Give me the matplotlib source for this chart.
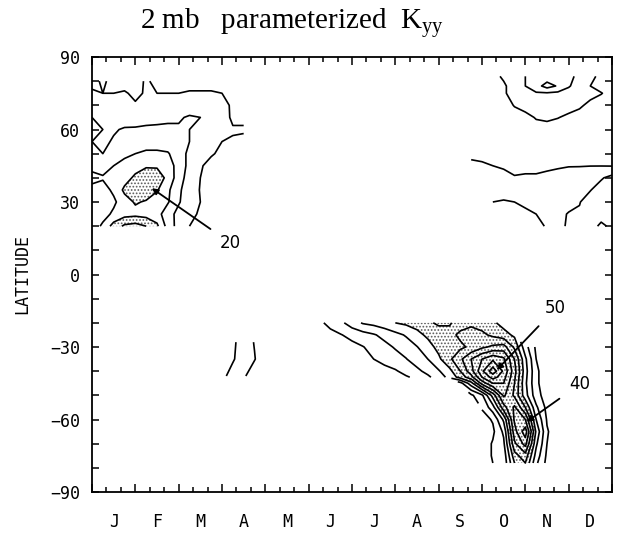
import numpy as np
import matplotlib.pyplot as plt

plt.rcParams['hatch.linewidth'] = 0.8
plt.rcParams['hatch.color'] = '0.35'

nan = np.nan
months = ['J', 'F', 'M', 'A', 'M', 'J', 'J', 'A', 'S', 'O', 'N', 'D']
levels = [5, 10, 15, 20, 25, 30, 35, 40, 45, 50]
shade = [20, 100]

# NH winter block (Jan - mid Apr), time in months
nhw_t = [0, 0.25, 0.5, 0.75, 1.0, 1.25, 1.5, 1.75, 2.0, 2.25, 2.5, 2.75, 3.0, 3.25, 3.5]
nhw_lat = [20, 25, 30, 35, 40, 45, 50, 55, 60, 65, 70, 75, 80]
nhw_k = [
    [12, 16, 22, 26, 27, 25, 21, 13, 8, 5, 3, 2, 2, 2, 2],
    [13, 13, 16, 18, 18.5, 18, 17, 12, 8.5, 6, 4.5, 2.5, 2, 2, 2],
    [12, 11, 14, 18, 20.5, 19.5, 17, 15.5, 10.5, 7, 5, 3, 2, 2, 2],
    [14, 13, 16, 21, 23, 23, 20.5, 16, 11, 7, 4.8, 3, 2, 2, 2],
    [16, 15.5, 16, 18, 21, 22.5, 22, 19, 12, 8, 5, 3, 2.5, 2.5, 2.5],
    [14, 13, 15, 16.5, 18, 19.5, 19.5, 17.5, 13, 8.5, 5.5, 3.5, 3, 3, 3],
    [12, 10, 12, 14, 15, 16, 16, 15.5, 12, 9, 6, 5.5, 4, 3, 3],
    [10, 9, 10.5, 12, 12, 12.5, 12.5, 12, 11, 10, 7, 6, 5, 4.5, 4],
    [10.5, 10, 9.5, 10.5, 10.5, 11, 11, 11, 10.5, 10, 8.5, 7, 6, 5.5, 5.5],
    [10, 9.5, 8.5, 7.5, 8, 8, 8.5, 9, 9.5, 10.5, 10, 8.5, 7.5, 4, 4],
    [8, 7, 6.5, 6, 5.5, 6, 6, 6.5, 7, 7.5, 8.5, 9, 7, 4, 4.5],
    [5.5, 5, 5, 5.5, 4, 5.5, 5, 5, 5, 5.5, 5.5, 5.5, 5, 5, 4],
    [4, 5.5, 4, 3, 3.5, 5.5, 4, 3, 3, 3, 3, 3, 3, 3, 3],
]

# NH autumn block (Sep - Dec)
nha_t = [8.75, 9.0, 9.25, 9.5, 9.75, 10.0, 10.25, 10.5, 10.75, 11.0, 11.25, 11.5, 11.75, 12.0]
nha_lat = [20, 25, 30, 35, 40, 45, 50, 55, 60, 65, 70, 75, 78, 82]
nha_k = [
    [nan, nan, 13, 13.5, 13, 12.5, 11.5, 9.5, 9, 10.5, 12, 14, 15.5, 14.5],
    [nan, nan, 12, 12.5, 12, 11, 10, 8.5, 9.2, 10.2, 10.5, 12, 14, 14],
    [nan, nan, 10, 10.5, 10, 9, 8, 7.5, 8, 9, 9.8, 12, 13, 14],
    [nan, nan, 8, 7.5, 7, 7, 6.5, 6.5, 7, 8, 9.5, 9.8, 12, 13],
    [7, 6.5, 6.5, 6, 5.2, 5.5, 5.5, 6, 6.5, 7, 7.5, 8.5, 9.5, 11.5],
    [6, 5.5, 5, 4.6, 4.2, 4.0, 4.0, 4.2, 4.5, 4.8, 4.8, 4.9, 4.9, 4.8],
    [4, 4, 3.8, 3.5, 3.2, 3, 3, 3.2, 3.5, 3.8, 4, 4, 4, 4],
    [2, 2, 2.5, 2.5, 3, 3, 3.5, 3.5, 3.5, 3.5, 3, 3, 3, 3],
    [1.5, 2, 2, 2.5, 3, 3.5, 4, 4, 3.8, 3.5, 3, 2.5, 2, 1.5],
    [1.5, 2, 2.5, 3, 3.5, 4.2, 5.2, 5.5, 5.1, 4.5, 3.8, 3, 2, 1.5],
    [2, 2.5, 3, 3.5, 5.2, 6, 6.5, 6.5, 6.5, 6, 5.5, 4.2, 3, 2],
    [2.5, 3, 3.5, 4.5, 6.5, 8.5, 9.5, 9.5, 9, 8, 7, 6, 5.2, 3.5],
    [2.5, 3, 3.5, 4.5, 6.5, 10, 13, 17, 14.5, 10.5, 7.5, 5, 3.5, 3],
    [3, 3.5, 4, 5.5, 7, 10, 11.5, 12, 11.5, 10.5, 9.5, 5.5, 4.5, 4],
]

# SH small patch (late Mar / Apr)
shs_t = [3.0, 3.25, 3.5, 3.75, 4.0]
shs_lat = [-42, -35, -28]
shs_k = [
    [4, 6.5, 5.5, 3, 1.5],
    [2.5, 4.6, 7, 5.2, 2.5],
    [2, 4.2, 7, 4.8, 2],
]

# SH spring block (Jun - Nov)
sh_t = [5.0, 5.25, 5.5, 5.75, 6.0, 6.25, 6.5, 6.75, 7.0, 7.25, 7.5, 7.75, 8.0,
        8.25, 8.5, 8.75, 9.0, 9.25, 9.5, 9.75, 10.0, 10.25, 10.5, 10.75, 11.0]
sh_lat = [-78, -75, -70, -65, -60, -55, -50, -45, -42.5, -40, -35, -30, -25, -20]
sh_k = [
    [nan] * 16 + [2, 5, 6.5, 20, 25, 11, 3.5, 1.5, 0.5],
    [nan] * 16 + [2, 5.5, 7, 23, 28, 13, 4, 1.5, 0.5],
    [nan] * 16 + [2, 5.5, 9, 29, 37, 16, 5, 2, 0.5],
    [nan] * 16 + [2, 4, 11, 33, 43, 19, 5.5, 2, 0.5],
    [nan] * 16 + [3, 5.5, 16, 36, 35, 15, 4.5, 1.5, 0.5],
    [nan] * 16 + [5.5, 13, 28, 36, 25, 11, 3.5, 1.5, 0.5],
    [nan] * 15 + [4, 9, 22, 36, 29, 17, 7, 2.5, 1, 0.5],
    [nan] * 14 + [8, 18, 32, 40, 40, 30, 16, 6, 2, 1, 0.5],
    [0, 0, 0, 0.5, 1, 1.5, 2, 2.5, 3.5, 4.5, 6, 9, 12.5, 16.5, 22, 28, 40, 47, 42, 31, 16.5, 6, 2, 1, 0.5],
    [0, 0, 0.5, 1, 1.5, 2, 2.5, 3.5, 4.5, 6.5, 8.8, 11.5, 14.5, 18.5, 25, 33, 44, 53, 44, 32, 17, 6, 2, 1, 0.5],
    [0, 0.5, 1, 1.5, 2.5, 3.5, 5, 6.5, 8, 9.8, 12.5, 15, 19, 24, 29, 35, 40, 44, 41, 30, 16, 5, 2, 1, 0.5],
    [0.5, 1, 1.5, 2.5, 3.5, 4.8, 6.5, 8.5, 10.5, 12.5, 14.8, 18, 21.5, 23, 24, 26, 29, 31, 32, 24, 12, 4, 2, 1, 0.5],
    [1, 2, 3.5, 4.8, 6.5, 8, 9.5, 11.5, 13.5, 15.5, 18.5, 21, 22, 23.5, 26, 27, 26, 24, 22, 19] + [nan] * 5,
    [2, 4, 6.5, 9, 12.5, 15.5, 16.5, 18, 20, 21, 22, 24, 26, 25.5, 23, 24, 23, 21, 18] + [nan] * 6,
]

fig = plt.figure(figsize=(6.18, 5.37), dpi=100)
ax = fig.add_axes([92 / 618, 1 - 492 / 537, 520 / 618, 435 / 537])

for t, lat, k in [(nhw_t, nhw_lat, nhw_k), (nha_t, nha_lat, nha_k),
                  (shs_t, shs_lat, shs_k), (sh_t, sh_lat, sh_k)]:
    z = np.ma.masked_invalid(np.array(k, dtype=float))
    ax.contourf(t, lat, z, levels=shade, colors='none', hatches=['.....'])
    ax.contour(t, lat, z, levels=levels, colors='k', linewidths=1.2)

arrow = dict(arrowstyle='-|>', color='k', lw=1.3, mutation_scale=9, shrinkA=6, shrinkB=0)
lab = dict(fontsize=12, family='DejaVu Sans', ha='center', va='center')
ax.annotate('20', xy=(1.38, 35.7), xytext=(3.2, 13), arrowprops=arrow, **lab)
ax.annotate('50', xy=(9.34, -39.5), xytext=(10.7, -14), arrowprops=arrow, **lab)
ax.annotate('40', xy=(10.03, -61), xytext=(11.25, -45.5), arrowprops=arrow, **lab)

ax.set_xlim(0, 12)
ax.set_ylim(-90, 90)
ax.set_xticks(range(13))
ax.set_xticks([m / 3 for m in range(37)], minor=True)
ax.set_xticklabels([])
ax.set_yticks(range(-90, 91, 30))
ax.set_yticks(range(-90, 91, 10), minor=True)
ax.tick_params(which='both', direction='in', top=True, right=True, width=1.1)
ax.tick_params(which='major', length=6)
ax.tick_params(which='minor', length=3.5)
ax.tick_params(axis='y', which='major', length=5, pad=8.5)
ax.tick_params(axis='y', which='minor', length=5)
for s in ax.spines.values():
    s.set_linewidth(1.3)
for lbl in ax.get_yticklabels():
    lbl.set_family('DejaVu Sans Mono')
    lbl.set_fontsize(12)

for i, m in enumerate(months):
    ax.text(i + 0.5, -0.07, m, transform=ax.get_xaxis_transform(), ha='center', va='center',
            family='DejaVu Sans Mono', fontsize=12)

fig.text(22 / 618, 1 - 274 / 537, 'LATITUDE', rotation=90, ha='center', va='center',
         family='DejaVu Sans Mono', fontsize=12)
fig.text(0.473, 1 - 24 / 537, '2 mb   parameterized  K$_{\\mathregular{yy}}$', ha='center', va='center',
         family='Liberation Serif', fontsize=21)

fig.savefig('out.png', dpi=100)
